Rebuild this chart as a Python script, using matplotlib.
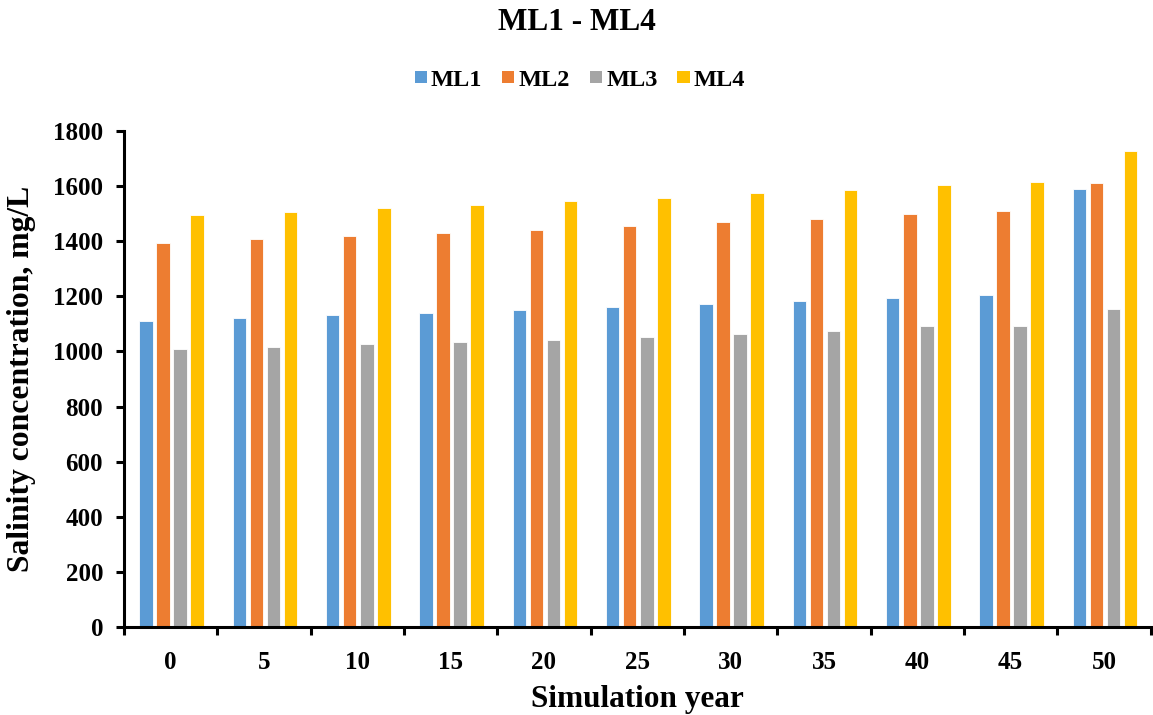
import matplotlib
matplotlib.use("Agg")
import matplotlib.pyplot as plt
import numpy as np
from matplotlib.patches import Patch

years = [0, 5, 10, 15, 20, 25, 30, 35, 40, 45, 50]
ml1 = [1111, 1120, 1131, 1140, 1151, 1161, 1172, 1181, 1192, 1204, 1588]
ml2 = [1394, 1406, 1418, 1429, 1442, 1456, 1470, 1482, 1497, 1511, 1612]
ml3 = [1007, 1016, 1026, 1034, 1043, 1052, 1062, 1073, 1091, 1091, 1152]
ml4 = [1493, 1506, 1520, 1532, 1546, 1558, 1573, 1587, 1602, 1616, 1726]
series_names = ["ML1", "ML2", "ML3", "ML4"]
colors = ["#5B9BD5", "#ED7D31", "#A5A5A5", "#FFC000"]

plt.rcParams['font.family'] = ['Liberation Serif', 'DejaVu Serif']
plt.rcParams['font.weight'] = 'bold'

fig = plt.figure(figsize=(11.53, 7.15), dpi=100)
ax = fig.add_axes([0.1075, 0.123, 0.8905, 0.694])

x = np.arange(len(years))
pitch = 0.183
width = 0.145
for i, (vals, c) in enumerate(zip([ml1, ml2, ml3, ml4], colors)):
    ax.bar(x + (i - 1.5) * pitch + 0.01, vals, width=width, color=c,
           edgecolor='white', linewidth=0.6)

ax.set_xlim(-0.5, len(years) - 0.5)
ax.set_ylim(0, 1800)
ax.set_yticks(np.arange(0, 1801, 200))
ax.set_xticks(x)
ax.set_xticklabels([str(y) for y in years])
ax.set_xticks(np.arange(-0.5, len(years), 1.0), minor=True)

for s in ['top', 'right']:
    ax.spines[s].set_visible(False)
for s in ['left', 'bottom']:
    ax.spines[s].set_linewidth(2.2)
    ax.spines[s].set_color('black')

ax.tick_params(axis='y', which='major', direction='out', length=6, width=2.2,
               labelsize=18, pad=9)
ax.tick_params(axis='x', which='major', length=0, labelsize=18, pad=17)
ax.tick_params(axis='x', which='minor', direction='out', length=6, width=2.2)
for lbl in ax.get_xticklabels() + ax.get_yticklabels():
    lbl.set_fontweight('bold')

ax.set_xlabel("Simulation year", fontsize=22.5, fontweight='bold', labelpad=8)
ax.set_ylabel("Salinity concentration, mg/L", fontsize=22.75, fontweight='bold', labelpad=12)

fig.text(0.5, 1 - 22 / 715, "ML1 - ML4", ha='center', va='center',
         fontsize=22.5, fontweight='bold')

handles = [Patch(facecolor=c, edgecolor='none') for c in colors]
fig.legend(handles, series_names, loc='center', bbox_to_anchor=(0.503, 1 - 80 / 715),
           ncol=4, frameon=False, handlelength=0.5, handleheight=0.42,
           handletextpad=0.17, columnspacing=0.82, borderpad=0.2,
           prop={'weight': 'bold', 'size': 17.5})

fig.savefig("out.png", dpi=100)
